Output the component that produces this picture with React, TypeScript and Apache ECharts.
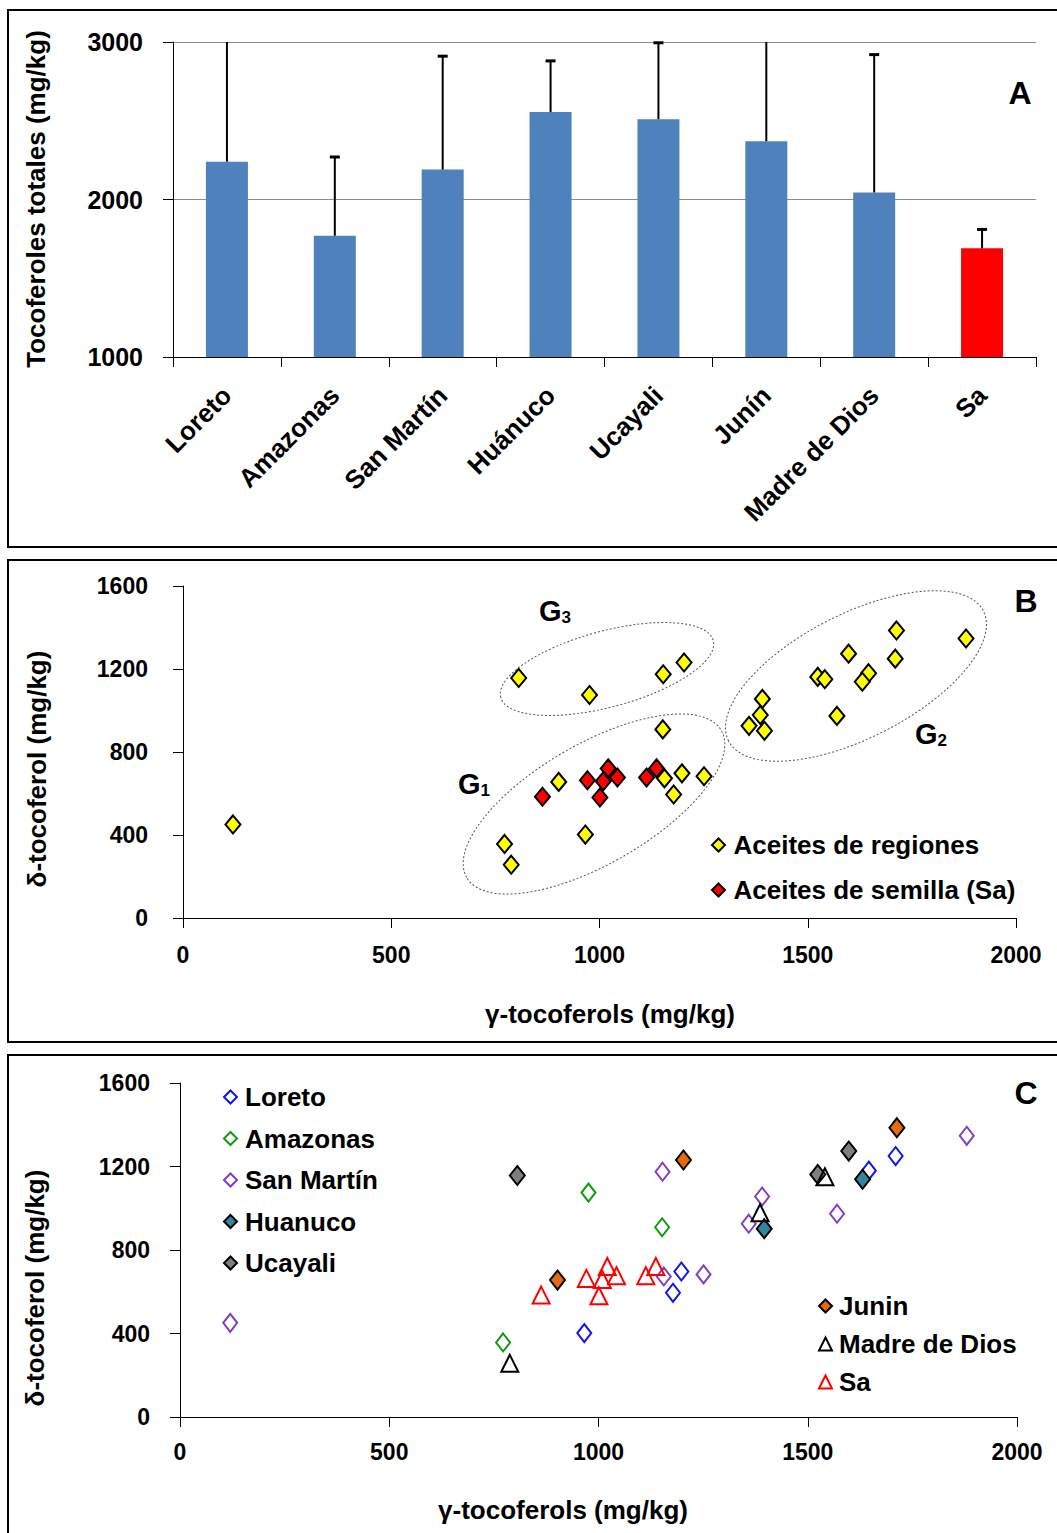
import React, { useEffect, useRef } from "react";
import * as echarts from "echarts";

// ---------- Data ----------
const regions = ["Loreto", "Amazonas", "San Martín", "Huánuco", "Ucayali", "Junín", "Madre de Dios", "Sa"];
const totals = [2240, 1770, 2190, 2555, 2510, 2370, 2045, 1690];
const totalErrors = [900, 500, 720, 325, 485, 800, 875, 120];

const barTicksA = { min: 1000, max: 3000, interval: 1000 };
const scatterTicks = { xMin: 0, xMax: 2000, xInterval: 500, yMin: 0, yMax: 1600, yInterval: 400 };

const loreto = [[966, 402], [1178, 595], [1198, 697], [1646, 1180], [1710, 1250]];
const amazonas = [[772, 357], [976, 1075], [1152, 909]];
const sanMartin = [[120, 451], [1153, 1175], [1156, 673], [1251, 683], [1359, 926], [1391, 1056], [1570, 974], [1880, 1347]];
const huanuco = [[1396, 902], [1631, 1139]];
const ucayali = [[806, 1157], [1524, 1162], [1598, 1274]];
const junin = [[902, 656], [1203, 1231], [1713, 1386]];
const madreDeDios = [[788, 257], [1386, 978], [1541, 1151]];
const semilla = [[863, 584], [971, 664], [1001, 581], [1009, 659], [1021, 721], [1043, 677], [1113, 677], [1137, 721]];

const regionesAll = [...loreto, ...amazonas, ...sanMartin, ...huanuco, ...ucayali, ...junin, ...madreDeDios];

// ---------- Styles ----------
const ARIAL = "'Liberation Sans', Arial, sans-serif";
const DIAMOND_ICON = "path://M0,-1L1,0L0,1L-1,0Z";
const TRIANGLE_ICON = "path://M0,-1.1L1,0.9L-1,0.9Z";

const groupsC = [
  { name: "Loreto", data: loreto, symbol: "diamond", size: [14, 18], fill: "rgba(255,255,255,0)", stroke: "#1414E6" },
  { name: "Amazonas", data: amazonas, symbol: "diamond", size: [14, 18], fill: "rgba(255,255,255,0)", stroke: "#109A10" },
  { name: "San Martín", data: sanMartin, symbol: "diamond", size: [14, 18], fill: "rgba(255,255,255,0)", stroke: "#7F3FBF" },
  { name: "Huanuco", data: huanuco, symbol: "diamond", size: [15, 19], fill: "#31859C", stroke: "#000000" },
  { name: "Ucayali", data: ucayali, symbol: "diamond", size: [15, 19], fill: "#7F7F7F", stroke: "#000000" },
  { name: "Junin", data: junin, symbol: "diamond", size: [15, 19], fill: "#E46C0A", stroke: "#000000" },
  { name: "Madre de Dios", data: madreDeDios, symbol: "triangle", size: [17, 17], fill: "rgba(255,255,255,0)", stroke: "#000000" },
  { name: "Sa", data: semilla, symbol: "triangle", size: [17, 17], fill: "rgba(255,255,255,0)", stroke: "#FF0000" },
];

function valueAxis(gridIndex: number, min: number, max: number, interval: number, fontSize: number, margin: number) {
  return {
    gridIndex,
    type: "value",
    min,
    max,
    interval,
    axisLine: { show: true, lineStyle: { color: "#000", width: 1 } },
    axisTick: { show: true, length: 10, lineStyle: { color: "#000", width: 1 } },
    splitLine: { show: false },
    axisLabel: {
      color: "#000",
      fontFamily: ARIAL,
      fontWeight: "bold",
      fontSize,
      margin,
      formatter: (v: number) => String(v),
    },
  };
}

function gLabel(x: number, y: number, sub: string) {
  return {
    type: "text",
    x,
    y,
    silent: true,
    style: {
      text: "{g|G}{s|" + sub + "}",
      align: "left",
      verticalAlign: "middle",
      rich: {
        g: { fontFamily: ARIAL, fontWeight: "bold", fontSize: 29, fill: "#000", lineHeight: 30 },
        s: { fontFamily: ARIAL, fontWeight: "bold", fontSize: 17, fill: "#000", verticalAlign: "bottom", lineHeight: 30, padding: [12, 0, 0, 0] },
      },
    },
  };
}

function ellipse(cx: number, cy: number, rx: number, ry: number, deg: number) {
  return {
    type: "ellipse",
    x: cx,
    y: cy,
    rotation: (deg * Math.PI) / 180,
    silent: true,
    shape: { cx: 0, cy: 0, rx, ry },
    style: { fill: "none", stroke: "#555", lineWidth: 1, lineDash: [2, 2] },
  };
}

function rotatedTitle(text: string, x: number, y: number) {
  return {
    type: "text",
    x,
    y,
    rotation: Math.PI / 2,
    silent: true,
    style: { text, fontFamily: ARIAL, fontWeight: "bold", fontSize: 26, fill: "#000", align: "center", verticalAlign: "middle" },
  };
}

function plainText(text: string, x: number, y: number, fontSize: number) {
  return {
    type: "text",
    x,
    y,
    silent: true,
    style: { text, fontFamily: ARIAL, fontWeight: "bold", fontSize, fill: "#000", align: "center", verticalAlign: "middle" },
  };
}

function buildOption() {
  const barSeries = {
    type: "bar",
    xAxisIndex: 0,
    yAxisIndex: 0,
    barWidth: 42,
    data: totals.map((v, i) => ({
      value: v,
      itemStyle: { color: regions[i] === "Sa" ? "#FF0000" : "#4F81BD" },
    })),
    z: 2,
  };

  const errorSeries = {
    type: "custom",
    xAxisIndex: 0,
    yAxisIndex: 0,
    z: 3,
    data: totals.map((v, i) => [i, v, v + totalErrors[i]]),
    renderItem: (params: any, api: any) => {
      const base = api.coord([api.value(0), api.value(1)]);
      const top = api.coord([api.value(0), api.value(2)]);
      const cs = params.coordSys;
      const clipped = top[1] < cs.y;
      const ty = Math.max(top[1], cs.y);
      const children: any[] = [
        { type: "line", shape: { x1: base[0], y1: base[1], x2: base[0], y2: ty }, style: { stroke: "#000", lineWidth: 2 } },
      ];
      if (!clipped) {
        children.push({ type: "line", shape: { x1: base[0] - 5, y1: ty, x2: base[0] + 5, y2: ty }, style: { stroke: "#000", lineWidth: 3 } });
      }
      return { type: "group", children };
    },
  };

  const seriesB = [
    {
      name: "Aceites de semilla (Sa)",
      type: "scatter",
      xAxisIndex: 1,
      yAxisIndex: 1,
      symbol: "diamond",
      symbolSize: [15, 18],
      itemStyle: { color: "#FF0000", borderColor: "#000", borderWidth: 2, opacity: 1 },
      data: semilla,
    },
    {
      name: "Aceites de regiones",
      type: "scatter",
      xAxisIndex: 1,
      yAxisIndex: 1,
      symbol: "diamond",
      symbolSize: [15, 18],
      itemStyle: { color: "#FFFF00", borderColor: "#000", borderWidth: 2, opacity: 1 },
      data: regionesAll,
    },
  ];

  const seriesC = groupsC.map((g) => ({
    name: g.name,
    type: "scatter",
    xAxisIndex: 2,
    yAxisIndex: 2,
    symbol: g.symbol,
    symbolSize: g.size,
    itemStyle: { color: g.fill, borderColor: g.stroke, borderWidth: 2, opacity: 1 },
    data: g.data,
  }));

  const legendText = (size: number) => ({
    color: "#000",
    fontFamily: ARIAL,
    fontWeight: "bold",
    fontSize: size,
    lineHeight: size,
  });

  const iconFor = (name: string) => {
    const g = groupsC.find((x) => x.name === name);
    return { name, icon: g && g.symbol === "triangle" ? TRIANGLE_ICON : DIAMOND_ICON };
  };

  return {
    animation: false,
    backgroundColor: "#ffffff",
    grid: [
      { left: 173, top: 42, width: 863, height: 315 },
      { left: 183, top: 586, width: 833, height: 332 },
      { left: 180, top: 1083, width: 837, height: 334 },
    ],
    xAxis: [
      {
        gridIndex: 0,
        type: "category",
        data: regions,
        axisLine: { show: true, lineStyle: { color: "#000", width: 1 } },
        axisTick: { show: true, length: 10, alignWithLabel: false, lineStyle: { color: "#000" } },
        axisLabel: { interval: 0, rotate: 45, color: "#000", fontFamily: ARIAL, fontWeight: "bold", fontSize: 26, margin: 34 },
      },
      valueAxis(1, scatterTicks.xMin, scatterTicks.xMax, scatterTicks.xInterval, 23, 25),
      valueAxis(2, scatterTicks.xMin, scatterTicks.xMax, scatterTicks.xInterval, 23, 23),
    ],
    yAxis: [
      {
        ...valueAxis(0, barTicksA.min, barTicksA.max, barTicksA.interval, 25, 30),
        splitLine: { show: true, lineStyle: { color: "#8C8C8C", width: 1 } },
      },
      valueAxis(1, scatterTicks.yMin, scatterTicks.yMax, scatterTicks.yInterval, 23, 35),
      valueAxis(2, scatterTicks.yMin, scatterTicks.yMax, scatterTicks.yInterval, 23, 30),
    ],
    legend: [
      {
        data: [
          { name: "Aceites de regiones", icon: DIAMOND_ICON },
          { name: "Aceites de semilla (Sa)", icon: DIAMOND_ICON },
        ],
        orient: "vertical",
        left: 711,
        top: 832,
        padding: 0,
        itemWidth: 20,
        itemHeight: 13,
        itemGap: 19,
        symbolKeepAspect: true,
        selectedMode: false,
        textStyle: legendText(26),
      },
      {
        data: ["Loreto", "Amazonas", "San Martín", "Huanuco", "Ucayali"].map(iconFor),
        orient: "vertical",
        left: 223,
        top: 1084,
        padding: 0,
        itemWidth: 19,
        itemHeight: 13,
        itemGap: 15.5,
        symbolKeepAspect: true,
        selectedMode: false,
        textStyle: legendText(26),
      },
      {
        data: ["Junin", "Madre de Dios", "Sa"].map(iconFor),
        orient: "vertical",
        left: 818,
        top: 1293,
        padding: 0,
        itemWidth: 17,
        itemHeight: 13,
        itemGap: 12,
        symbolKeepAspect: true,
        selectedMode: false,
        textStyle: legendText(26),
      },
    ],
    graphic: [
      { type: "rect", silent: true, shape: { x: 8, y: 10, width: 1070, height: 537 }, style: { fill: "none", stroke: "#000", lineWidth: 2 } },
      { type: "rect", silent: true, shape: { x: 8, y: 560, width: 1070, height: 482 }, style: { fill: "none", stroke: "#000", lineWidth: 2 } },
      { type: "rect", silent: true, shape: { x: 8, y: 1055, width: 1070, height: 520 }, style: { fill: "none", stroke: "#000", lineWidth: 2 } },
      rotatedTitle("Tocoferoles totales (mg/kg)", 36, 199),
      rotatedTitle("δ-tocoferol (mg/kg)", 37, 769),
      rotatedTitle("δ-tocoferol (mg/kg)", 35, 1288),
      plainText("γ-tocoferols (mg/kg)", 610, 1014, 26),
      plainText("γ-tocoferols (mg/kg)", 563, 1510, 26),
      plainText("A", 1020, 93, 32),
      plainText("B", 1026, 601, 32),
      plainText("C", 1026, 1093, 32),
      ellipse(607, 669, 110, 38, 15),
      ellipse(594, 804, 147, 60, 30),
      ellipse(856, 676, 143, 62, 27),
      gLabel(539, 611, "3"),
      gLabel(458, 784, "1"),
      gLabel(915, 734, "2"),
    ],
    series: [barSeries, errorSeries, ...seriesB, ...seriesC],
  };
}

export default function App() {
  const ref = useRef<HTMLDivElement>(null);
  useEffect(() => {
    if (!ref.current) return;
    const chart = echarts.init(ref.current, undefined, { renderer: "svg" });
    chart.setOption(buildOption() as any);
    return () => chart.dispose();
  }, []);
  return (
    <div
      ref={ref}
      style={{ position: "absolute", left: 0, top: 0, width: 1057, height: 1533, background: "#fff" }}
    />
  );
}
